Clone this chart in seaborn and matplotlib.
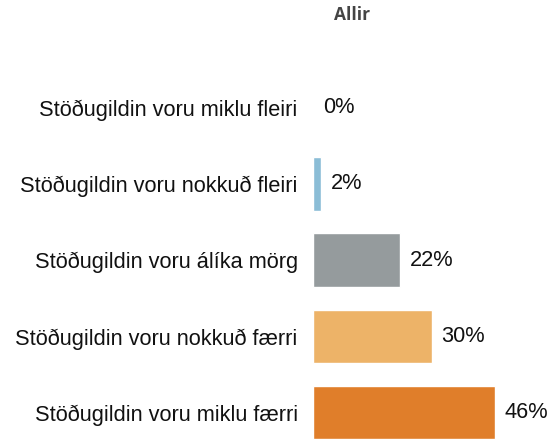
import pandas as pd
import seaborn as sns
import matplotlib.pyplot as plt

# data
categories = ["Stöðugildin voru miklu fleiri",
              "Stöðugildin voru nokkuð fleiri",
              "Stöðugildin voru álíka mörg",
              "Stöðugildin voru nokkuð færri",
              "Stöðugildin voru miklu færri"]
values = [0, 2, 22, 30, 46]
colors = ["#8bbdd6", "#8bbdd6", "#959b9d", "#edb368", "#e07e2a"]
title = "Allir"

df = pd.DataFrame({"cat": categories, "val": values})

sns.set_style("white")
plt.rcParams['font.family'] = ['Liberation Sans', 'DejaVu Sans']

fig = plt.figure(figsize=(5.52, 4.41), dpi=100)
ax = fig.add_axes([313/552, 0, 239/552, 1])

sns.barplot(data=df, x="val", y="cat", hue="cat", palette=colors,
            orient="h", width=0.7, legend=False, ax=ax, saturation=1)

ax.set_xlim(0, 239/3.95)
ax.set_ylim(4.37, -1.41)
ax.set_xlabel("")
ax.set_ylabel("")
ax.set_xticks([])
ax.tick_params(axis="y", length=0, pad=11, labelsize=15.7, labelcolor="#111111")
sns.despine(ax=ax, left=True, bottom=True)

# value labels
for i, v in enumerate(values):
    ax.annotate(f"{v}%", (v, i), xytext=(7, 0), textcoords="offset points",
                va="center", ha="left", fontsize=15.7, color="#111111")

fig.text(352/552, 1 - 15/441, title, ha="center", va="center",
         fontsize=12.5, fontweight="bold", color="#444444",
         family=["Open Sans", "DejaVu Sans"])

fig.savefig("out.png", dpi=100)
